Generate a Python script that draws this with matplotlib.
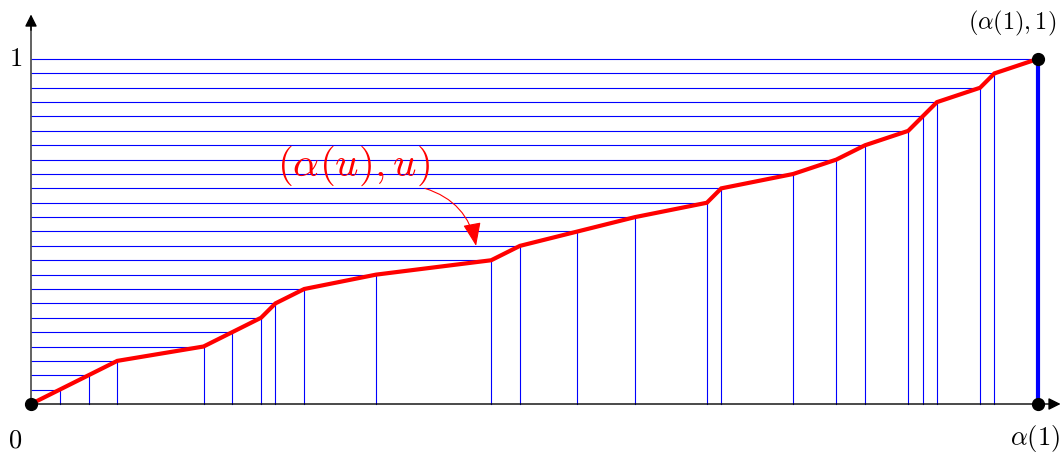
import matplotlib
matplotlib.use('Agg')
import matplotlib.pyplot as plt
from matplotlib.patches import FancyArrowPatch

plt.rcParams['mathtext.fontset'] = 'cm'
plt.rcParams['font.family'] = 'DejaVu Serif'

# Sommets de la courbe (alpha(u), u) : abscisses et niveaux (u = k/24)
alpha_x = [0, 2, 4, 6, 12, 14, 16, 17, 19, 24, 32, 34, 38, 42,
           47, 48, 53, 56, 58, 61, 62, 63, 66, 67, 70]
niveaux = list(range(25))
n = niveaux[-1]
a1 = alpha_x[-1]

blue = '#0000ff'
red = '#ff0000'

fig = plt.figure(figsize=(10.64, 4.53), dpi=100)
ax = fig.add_axes([0, 0, 1, 1])
ax.set_xlim(-31 / 14.38, (1064 - 31) / 14.38)
ax.set_ylim(-(453 - 404) / 14.375, 404 / 14.375)
ax.axis('off')

# Lignes horizontales et verticales
for xk, k in zip(alpha_x[1:], niveaux[1:]):
    ax.plot([0, xk], [k, k], color=blue, lw=0.8, zorder=1)
    if k < n:
        ax.plot([xk, xk], [0, k], color=blue, lw=0.8, zorder=1)
ax.plot([a1, a1], [0, n], color=blue, lw=3, zorder=2)

# Axes
ax.plot([0, 0], [0, 26.2], color='#555555', lw=1.3, zorder=2)
ax.annotate('', xy=(0, 27.1), xytext=(0, 26.0),
            arrowprops=dict(arrowstyle='-|>', color='black', lw=1,
                            mutation_scale=18, shrinkA=0, shrinkB=0))
ax.annotate('', xy=(71.6, 0), xytext=(0, 0),
            arrowprops=dict(arrowstyle='-|>', color='black', lw=1,
                            mutation_scale=18, shrinkA=0, shrinkB=0),
            zorder=2)

# Courbe
ax.plot(alpha_x, niveaux, color=red, lw=3, solid_joinstyle='miter', zorder=3)

# Points
ax.plot([0, a1, a1], [0, 0, n], 'o', color='black', ms=8.5, zorder=4)

# Textes
ax.text(-1.1, 0 - 2.5, r'$0$', fontsize=19, ha='center', va='center')
ax.text(-1.1, n + 0.05, r'$1$', fontsize=19, ha='center', va='center')
ax.text(a1 - 0.2, -2.4, r'$\alpha(1)$', fontsize=19, ha='center', va='center')
ax.text(a1 - 1.75, n + 2.5, r'$(\alpha(1),1)$', fontsize=17.5,
        ha='center', va='center')
ax.text(22.4, 16.6, r'$(\alpha(u),u)$', fontsize=29.5, color=red,
        ha='center', va='center')

arr = FancyArrowPatch((27.4, 15.0), (30.95, 11.0),
                      connectionstyle='arc3,rad=-0.3',
                      arrowstyle='-|>,head_length=0.9,head_width=0.35',
                      mutation_scale=16, color=red, lw=0.8,
                      shrinkA=0, shrinkB=0, zorder=5)
ax.add_patch(arr)

fig.savefig('out.png', dpi=100)
